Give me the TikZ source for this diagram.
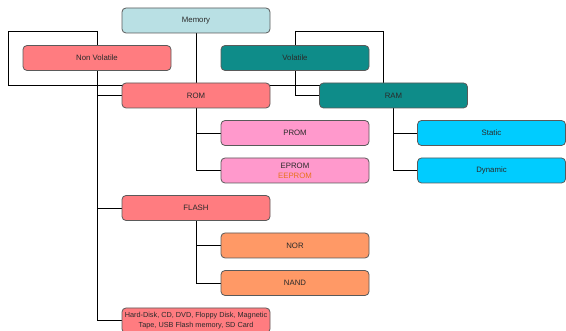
\documentclass[tikz,border=0pt]{standalone}
\usepackage{fontspec}
\setmainfont{Liberation Sans}
\usepackage{tikz}
\usetikzlibrary{positioning,backgrounds}
\definecolor{memfill}{HTML}{B9E0E4}
\definecolor{salmon}{HTML}{FF7C80}
\definecolor{tealbox}{HTML}{0E8C89}
\definecolor{pinkbox}{HTML}{FF99CC}
\definecolor{cyanbox}{HTML}{00CCFF}
\definecolor{orangebox}{HTML}{FF9966}
\definecolor{eeprom}{HTML}{E8731C}
\definecolor{edge}{HTML}{5A5A5A}
\definecolor{txt}{HTML}{2A2A2A}
\tikzset{x=1pt,y=1pt,node distance=12.5pt,
  box/.style={draw=edge,line width=0.8pt,rounded corners=4pt,minimum width=148pt,minimum height=25pt,
    inner sep=1pt,outer sep=0pt,text=txt,align=center,font=\fontsize{7.8}{10}\selectfont},
  wire/.style={line width=1.1pt,black}}

\begin{document}
\begin{tikzpicture}
    \useasboundingbox (0,0) rectangle (566,-331);
    \node[box,fill=memfill] (mem) at (196,-20.5) {Memory};
    \node[box,fill=salmon] (nonvol) [below=of mem,xshift=-99pt] {Non Volatile};
    \node[box,fill=tealbox] (vol) [below=of mem,xshift=99pt] {Volatile};
    \node[box,fill=salmon] (rom) [below=of nonvol,xshift=99pt] {ROM};
    \node[box,fill=tealbox] (ram) [below=of vol,xshift=98.5pt] {RAM};
    \node[box,fill=pinkbox] (prom) [below=of rom,xshift=99pt] {PROM};
    \node[box,fill=pinkbox] (eprom) [below=of prom] {EPROM\\\textcolor{eeprom}{EEPROM}};
    \node[box,fill=cyanbox] (static) [below=of ram,xshift=98pt] {Static};
    \node[box,fill=cyanbox] (dynamic) [below=of static] {Dynamic};
    \node[box,fill=salmon] (flash) [below=of eprom,xshift=-99pt] {FLASH};
    \node[box,fill=orangebox] (nor) [below=of flash,xshift=99pt] {NOR};
    \node[box,fill=orangebox] (nand) [below=of nor] {NAND};
    \node[box,fill=salmon,font=\fontsize{7.3}{9.5}\selectfont] (hd) [below=of nand,xshift=-99pt]
        {Hard-Disk, CD, DVD, Floppy Disk, Magnetic\\Tape, USB Flash memory, SD Card};
    \coordinate (nvl) at (8,-31);
    \coordinate (nvb) at (8,-85);
    \coordinate (vr) at (383,-31);
    \begin{scope}[on background layer,wire]
    \draw (mem) -- (rom);
    \draw (nonvol.center |- nvl) -- (nvl) -- (nvb) -- (nvb -| ram.west);
    \draw (nonvol.center |- nvl) |- (hd.west);
    \draw (nonvol.center |- rom) -- (rom.west);
    \draw (nonvol.center |- flash) -- (flash.west);
    \draw (vol.center |- vr) -- (vr) -- (vr |- ram.north);
    \draw (vol.center |- vr) |- (ram.west);
    \draw (rom) |- (prom.west);
    \draw (rom) |- (eprom.west);
    \draw (ram) |- (static.west);
    \draw (ram) |- (dynamic.west);
    \draw (flash) |- (nor.west);
    \draw (flash) |- (nand.west);
    \end{scope}
\end{tikzpicture}
\end{document}
